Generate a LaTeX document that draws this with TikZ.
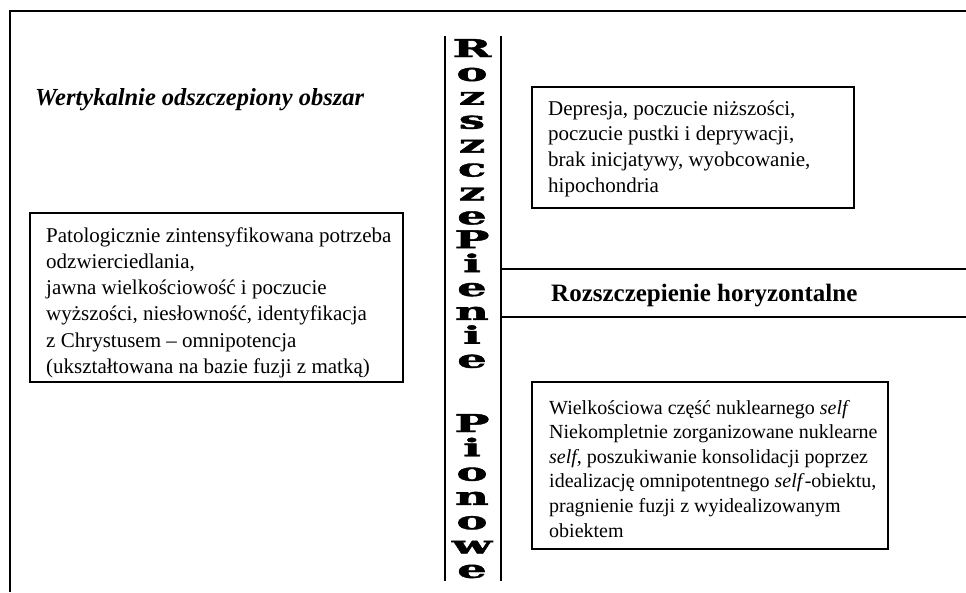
\documentclass[tikz,border=0pt]{standalone}
\usepackage{fontspec}
\usepackage{graphicx}
\setmainfont{Liberation Serif}
\newfontfamily\vfont{DejaVu Serif}[BoldFeatures={FakeBold=1.5}]
\begin{document}
\begin{tikzpicture}[x=1pt,y=-1pt,
  frameline/.style={line width=2.2pt, black},
  divline/.style={line width=1.5pt, black},
  boxst/.style={draw, line width=1.8pt, inner sep=0pt, outer sep=0pt, anchor=north west},
  bodytxt/.style={anchor=base west, inner sep=0pt, font=\fontsize{21}{26}\selectfont},
  smalltxt/.style={anchor=base west, inner sep=0pt, font=\fontsize{20}{25}\selectfont},
  vletter/.style={anchor=base, inner sep=0pt, font=\vfont\bfseries\fontsize{24.5}{28}\selectfont},
  headtxt/.style={anchor=base west, inner sep=0pt, font=\bfseries\fontsize{25}{28}\selectfont},
  titletxt/.style={anchor=base west, inner sep=0pt, font=\bfseries\itshape\fontsize{24.5}{28}\selectfont}
]
\useasboundingbox (0,0) rectangle (966,592);
% outer frame (open)
\coordinate (fTL) at (10,11);
\coordinate (fTR) at (966,11);
\coordinate (fBL) at (10,592);
\draw[frameline] (fTR) -- (fTL) -- (fBL);
% vertical split lines
\coordinate (v1t) at (445,36); \coordinate (v1b) at (445,581);
\coordinate (v2t) at (501,36); \coordinate (v2b) at (501,581);
\draw[divline] (v1t) -- (v1b);
\draw[divline] (v2t) -- (v2b);
% horizontal split lines
\coordinate (h1l) at (501,269); \coordinate (h1r) at (966,269);
\coordinate (h2l) at (501,317); \coordinate (h2r) at (966,317);
\draw[divline] (h1l) -- (h1r);
\draw[divline] (h2l) -- (h2r);
% vertical lettering
\foreach \c [count=\i from 0] in {R,o,z,s,z,c,z,e,P,i,e,n,i,e}
  \node[vletter] (ra\i) at (472,{57+23.9*\i}) {\scalebox{1.9}[1]{\c}};
\foreach \c [count=\i from 0] in {P,i,o,n,o,w,e}
  \node[vletter] (rb\i) at (472,{432+24.3*\i}) {\scalebox{1.9}[1]{\c}};
% title
\node[titletxt] (title) at (35,105) {Wertykalnie odszczepiony obszar};
\node[headtxt] (horiz) at (551,301) {Rozszczepienie horyzontalne};
% boxes
\node[boxst, minimum width=373pt, minimum height=169pt] (lbox) at (30,213) {};
\node[boxst, minimum width=322pt, minimum height=121pt] (tbox) at (532,87) {};
\node[boxst, minimum width=356pt, minimum height=167pt] (bbox) at (532,382) {};
% texts
\foreach \t [count=\i from 0] in {{Patologicznie zintensyfikowana potrzeba},{odzwierciedlania,},{jawna wielkościowość i poczucie},{wyższości, niesłowność, identyfikacja},{z Chrystusem -- omnipotencja},{(ukształtowana na bazie fuzji z matką)}}
  \node[bodytxt] (lt\i) at (46,{242+26.3*\i}) {\t};
\foreach \t [count=\i from 0] in {{Depresja, poczucie niższości,},{poczucie pustki i deprywacji,},{brak inicjatywy, wyobcowanie,},{hipochondria}}
  \node[bodytxt] (tt\i) at (548,{115+25.7*\i}) {\t};
\foreach \t [count=\i from 0] in {{Wielkościowa część nuklearnego \textit{self}},{Niekompletnie zorganizowane nuklearne},{\textit{self}, poszukiwanie konsolidacji poprzez},{idealizację omnipotentnego \textit{self}-obiektu,},{pragnienie fuzji z wyidealizowanym},{obiektem}}
  \node[smalltxt] (bt\i) at (549,{414+24.6*\i}) {\t};
\end{tikzpicture}
\end{document}
